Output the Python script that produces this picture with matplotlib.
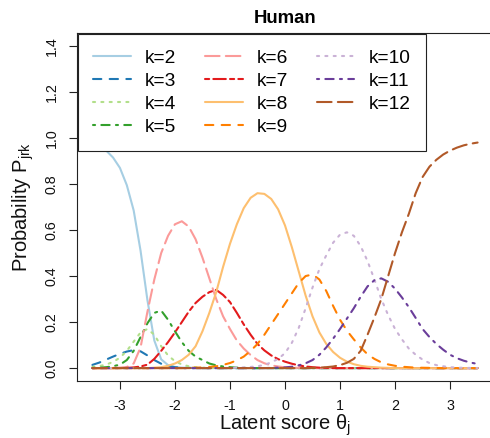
import matplotlib
matplotlib.use("Agg")
import matplotlib.pyplot as plt
from matplotlib.lines import Line2D

plt.rcParams['font.family'] = ['Liberation Sans', 'DejaVu Sans']
plt.rcParams['mathtext.fontset'] = 'custom'
plt.rcParams['mathtext.rm'] = 'Liberation Sans'
plt.rcParams['mathtext.it'] = 'Liberation Sans:italic'
plt.rcParams['mathtext.bf'] = 'Liberation Sans:bold'

# ---- data ----
# sampling grid of the latent score: -3.5 .. 3.5 every 0.125 (57 points)
theta = [-3.5 + 0.125 * i for i in range(57)]

Z8 = [0, 0, 0, 0, 0, 0, 0, 0]

p_k2 = ([0.978, 0.965, 0.945, 0.915, 0.87, 0.795, 0.685, 0.51] +
        [0.295, 0.12, 0.038, 0.013, 0.005, 0.002, 0.001, 0] +
        Z8 + Z8 + Z8 + Z8 + Z8 + [0])
p_k3 = ([0.014, 0.024, 0.037, 0.05, 0.062, 0.072, 0.078, 0.073] +
        [0.055, 0.035, 0.019, 0.009, 0.004, 0.002, 0.001, 0] +
        Z8 + Z8 + Z8 + Z8 + Z8 + [0])
p_k4 = ([0.005, 0.009, 0.015, 0.027, 0.045, 0.075, 0.115, 0.155] +
        [0.17, 0.145, 0.095, 0.055, 0.03, 0.016, 0.008, 0.004] +
        [0.002, 0.001, 0, 0, 0, 0, 0, 0] +
        Z8 + Z8 + Z8 + Z8 + [0])
p_k5 = ([0.001, 0.002, 0.004, 0.008, 0.015, 0.035, 0.075, 0.135] +
        [0.195, 0.24, 0.25, 0.21, 0.16, 0.113, 0.075, 0.05] +
        [0.035, 0.02, 0.012, 0.007, 0.004, 0.002, 0.001, 0] +
        Z8 + Z8 + Z8 + Z8 + [0])
p_k6 = ([0, 0, 0, 0.001, 0.002, 0.005, 0.02, 0.09] +
        [0.245, 0.385, 0.50, 0.575, 0.625, 0.638, 0.615, 0.56] +
        [0.48, 0.39, 0.30, 0.225, 0.17, 0.12, 0.085, 0.057] +
        [0.035, 0.021, 0.012, 0.007, 0.0034, 0.002, 0.001, 0] +
        Z8 + Z8 + Z8 + [0])
p_k7 = ([0, 0, 0, 0, 0, 0.001, 0.003, 0.007] +
        [0.015, 0.04, 0.075, 0.113, 0.155, 0.20, 0.245, 0.283] +
        [0.31, 0.33, 0.34, 0.318, 0.287, 0.24, 0.19, 0.145] +
        [0.105, 0.077, 0.055, 0.039, 0.028, 0.019, 0.012, 0.007] +
        [0.004, 0.002, 0.001, 0, 0, 0, 0, 0] +
        Z8 + Z8 + [0])
p_k8 = (Z8 +
        [0, 0.002, 0.004, 0.01, 0.02, 0.035, 0.058, 0.095] +
        [0.16, 0.24, 0.33, 0.44, 0.54, 0.625, 0.695, 0.74] +
        [0.76, 0.757, 0.735, 0.69, 0.62, 0.525, 0.42, 0.315] +
        [0.225, 0.155, 0.105, 0.07, 0.045, 0.028, 0.017, 0.01] +
        [0.006, 0.004, 0.002, 0.001, 0, 0, 0, 0] +
        Z8 + [0])
p_k9 = (Z8 +
        [0, 0, 0, 0, 0, 0, 0.001, 0.002] +
        [0.003, 0.005, 0.008, 0.014, 0.022, 0.034, 0.05, 0.075] +
        [0.105, 0.145, 0.19, 0.235, 0.28, 0.325, 0.37, 0.40] +
        [0.407, 0.385, 0.335, 0.27, 0.21, 0.163, 0.125, 0.09] +
        [0.06, 0.04, 0.025, 0.016, 0.01, 0.006, 0.004, 0.002] +
        [0.0015, 0.001, 0.0005, 0, 0, 0, 0, 0] + [0])
p_k10 = (Z8 + Z8 +
         [0, 0, 0, 0, 0.001, 0.002, 0.003, 0.005] +
         [0.008, 0.014, 0.025, 0.04, 0.065, 0.11, 0.175, 0.26] +
         [0.35, 0.43, 0.49, 0.545, 0.58, 0.59, 0.575, 0.53] +
         [0.465, 0.385, 0.30, 0.23, 0.17, 0.125, 0.085, 0.058] +
         [0.037, 0.022, 0.013, 0.008, 0.004, 0.002, 0.0012, 0.0007] +
         [0.0004])
p_k11 = (Z8 + Z8 + Z8 +
         [0, 0, 0.001, 0.002, 0.003, 0.006, 0.012, 0.021] +
         [0.035, 0.058, 0.09, 0.128, 0.17, 0.215, 0.26, 0.31] +
         [0.355, 0.382, 0.39, 0.375, 0.345, 0.307, 0.265, 0.218] +
         [0.17, 0.135, 0.105, 0.08, 0.058, 0.043, 0.032, 0.024] +
         [0.018])
p_k12 = (Z8 + Z8 + Z8 + Z8 +
         [0.001, 0.002, 0.004, 0.007, 0.013, 0.023, 0.04, 0.075] +
         [0.145, 0.22, 0.30, 0.40, 0.50, 0.59, 0.67, 0.76] +
         [0.83, 0.875, 0.905, 0.928, 0.945, 0.958, 0.968, 0.975] +
         [0.98])

series = [p_k2, p_k3, p_k4, p_k5, p_k6, p_k7, p_k8, p_k9, p_k10, p_k11, p_k12]
labels = ['k=2', 'k=3', 'k=4', 'k=5', 'k=6', 'k=7', 'k=8', 'k=9', 'k=10', 'k=11', 'k=12']

x_ticks = [-3, -2, -1, 0, 1, 2, 3]
x_tick_labels = ['-3', '-2', '-1', '0', '1', '2', '3']
y_ticks = [0.0, 0.2, 0.4, 0.6, 0.8, 1.0, 1.2, 1.4]
y_tick_labels = ['0.0', '0.2', '0.4', '0.6', '0.8', '1.0', '1.2', '1.4']

# ---- styles ----
colors = ['#A6CEE3', '#1F78B4', '#B2DF8A', '#33A02C', '#FB9A99', '#E31A1C',
          '#FDBF6F', '#FF7F00', '#CAB2D6', '#6A3D9A', '#B15928']
r_lty = ['-', (0, (4, 4)), (0, (1, 3)), (0, (1, 3, 4, 3)), (0, (7, 3)), (0, (2, 2, 6, 2))]
LW = 1.5

fig = plt.figure(figsize=(4.9, 4.38), dpi=100)
ax = fig.add_axes([77 / 490, 57 / 438, 416 / 490, 348 / 438])

handles = []
for i, (vals, lab) in enumerate(zip(series, labels)):
    ls = r_lty[i % 6]
    ax.plot(theta, vals, color=colors[i], linestyle=ls, linewidth=LW,
            solid_capstyle='round', dash_capstyle='round',
            solid_joinstyle='round', dash_joinstyle='round', label=lab)
    handles.append(Line2D([], [], color=colors[i], linestyle=ls, linewidth=LW,
                          solid_capstyle='round', dash_capstyle='round'))

ax.set_xlim(-3.78, 3.78)
ax.set_ylim(-0.056, 1.456)
ax.set_xticks(x_ticks)
ax.set_xticklabels(x_tick_labels)
ax.set_yticks(y_ticks)
ax.set_yticklabels(y_tick_labels)
for lbl in ax.get_yticklabels():
    lbl.set_rotation(90)
    lbl.set_va('center')

for sp in ax.spines.values():
    sp.set_linewidth(0.8)
    sp.set_color('#222222')

ax.tick_params(axis='both', direction='out', length=5.8, width=0.8,
               color='#222222', labelsize=10.3, labelcolor='#111111')
ax.tick_params(axis='x', pad=7)
ax.tick_params(axis='y', pad=7.5)

ax.set_xlabel('Latent score θ$_{\\mathrm{j}}$', fontsize=14.5, labelpad=0, color='#111111')
ax.set_ylabel('Probability P$_{\\mathrm{jrk}}$', fontsize=14.5, labelpad=6.5, color='#111111')

leg = ax.legend(handles, labels, ncol=3, loc='upper left', bbox_to_anchor=(0, 1),
                borderaxespad=0.05, fontsize=13.8, handlelength=1.95,
                handletextpad=0.75, columnspacing=1.5, labelspacing=0.29,
                borderpad=0.8, fancybox=False, framealpha=1, frameon=True)
leg.get_frame().set_edgecolor('#222222')
leg.get_frame().set_linewidth(0.8)

fig.text(285 / 490, 1 - 22.65 / 438, 'Human', ha='center', va='baseline',
         fontsize=13.4, fontweight='bold')

fig.savefig('out.png', dpi=100)
